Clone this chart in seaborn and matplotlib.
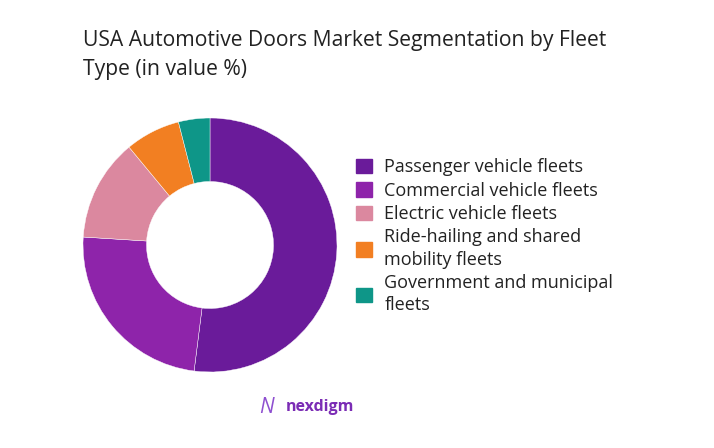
import matplotlib
matplotlib.use("Agg")
import matplotlib.pyplot as plt
import matplotlib.patches as mpatches
import seaborn as sns

fleet_types = [
    "Passenger vehicle fleets",
    "Commercial vehicle fleets",
    "Electric vehicle fleets",
    "Ride-hailing and shared\nmobility fleets",
    "Government and municipal\nfleets",
]
shares = [52, 24, 13, 7, 4]
colors = ["#6A1B9A", "#8E24AA", "#DB889F", "#F27F22", "#0E9688"]
title = "USA Automotive Doors Market Segmentation by Fleet\nType (in value %)"


def main():
    sns.set_theme(style="white")
    plt.rcParams["font.family"] = ["Open Sans", "DejaVu Sans"]
    palette = sns.color_palette(colors)

    W, H = 714, 448
    fig = plt.figure(figsize=(W / 100, H / 100), dpi=100)
    fig.patch.set_facecolor("white")

    # donut: center (210, 245) px, radius 127 px
    cx, cy, r = 210, 245, 127
    ax = fig.add_axes([(cx - r) / W, (H - cy - r) / H, 2 * r / W, 2 * r / H])
    ax.pie(shares, colors=palette, startangle=90, counterclock=False,
           wedgeprops=dict(width=0.5, edgecolor="white", linewidth=0.3))
    ax.set_xlim(-1, 1)
    ax.set_ylim(-1, 1)
    ax.set_aspect("equal")
    ax.axis("off")

    fig.text(83 / W, 1 - 30 / H, title, fontsize=15.2, color="#222222",
             va="top", ha="left", linespacing=1.5)

    handles = [mpatches.Patch(facecolor=c, edgecolor=c) for c in palette]
    leg = fig.legend(handles, fleet_types, loc="upper left",
                     bbox_to_anchor=(340 / W, 1 - 142 / H), frameon=False,
                     fontsize=13, handlelength=0.85, handleheight=0.85,
                     handletextpad=0.7, labelspacing=0.3, labelcolor="#222222")
    for t in leg.get_texts():
        t.set_linespacing(1.3)

    # logo
    fig.text(286 / W, 1 - 407 / H, "nexdigm", fontsize=11.5, color="#7B2CB5",
             fontweight="bold", va="center", ha="left")
    fig.text(259 / W, 1 - 407 / H, "N", fontsize=15, color="#8E4FD0",
             style="italic", va="center", ha="left")

    plt.savefig("out.png", dpi=100)
    plt.close()


if __name__ == "__main__":
    main()
